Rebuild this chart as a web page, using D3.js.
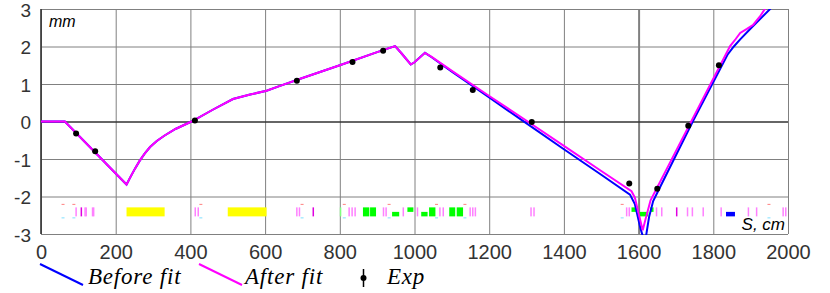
<!DOCTYPE html>
<html>
<head>
<meta charset="utf-8">
<title>Orbit fit</title>
<script src="https://d3js.org/d3.v7.min.js"></script>
<style>
  body { margin: 0; background: #fff; }
  svg { display: block; }
</style>
</head>
<body>
<script>
// x ticks (cm) and y ticks (mm)
let xTicks = [0, 200, 400, 600, 800, 1000, 1200, 1400, 1600, 1800, 2000]
let yTicks = [-3, -2, -1, 0, 1, 2, 3]

// "After fit" curve
let sAfter = [0, 64, 229, 240, 252, 264, 278, 292, 310, 330, 360, 403, 461, 514, 560, 604, 640, 700, 800, 900, 948, 965, 990, 1000, 1028, 1045, 1100, 1200, 1300, 1400, 1500, 1581, 1590, 1600, 1611, 1620, 1632, 1702, 1845, 1860, 1872, 1890, 1907, 1925, 1938, 1955]
let vAfter = [0, 0, -1.68, -1.47, -1.25, -1.05, -0.85, -0.68, -0.52, -0.38, -0.2, 0, 0.32, 0.6, 0.72, 0.82, 0.95, 1.16, 1.5, 1.85, 2.01, 1.82, 1.52, 1.58, 1.83, 1.73, 1.35, 0.68, 0.02, -0.65, -1.32, -1.86, -2.03, -2.45, -2.9, -2.55, -2.1, -0.75, 2.01, 2.2, 2.36, 2.47, 2.58, 2.8, 3.0, 3.25]

// "Before fit" curve
let sBefore = [0, 64, 229, 240, 252, 264, 278, 292, 310, 330, 360, 403, 461, 514, 560, 604, 640, 700, 800, 900, 948, 965, 990, 1000, 1028, 1045, 1100, 1200, 1300, 1400, 1500, 1577, 1590, 1605, 1611, 1620, 1628, 1639, 1650, 1745, 1838, 1855, 1872, 1900, 1952, 1965]
let vBefore = [0, 0, -1.68, -1.47, -1.25, -1.05, -0.85, -0.68, -0.52, -0.38, -0.2, 0, 0.32, 0.6, 0.72, 0.82, 0.95, 1.16, 1.5, 1.85, 2.01, 1.82, 1.52, 1.58, 1.83, 1.72, 1.33, 0.64, -0.05, -0.74, -1.42, -1.95, -2.2, -2.85, -3.05, -3.05, -2.55, -2.12, -1.9, 0, 1.78, 2.0, 2.19, 2.48, 3.0, 3.15]

// measured points
let sExp = [94, 145, 412, 685, 834, 916, 1069, 1156, 1314, 1575, 1650, 1733, 1815]
let vExp = [-0.32, -0.79, 0.03, 1.09, 1.59, 1.89, 1.44, 0.84, -0.01, -1.65, -1.79, -0.11, 1.5]

// lattice elements along s
let thinLight = [94, 118, 121, 138, 141, 413, 421, 685, 692, 825, 833, 841, 917, 924, 970, 1008, 1068, 1077, 1149, 1156, 1163, 1312, 1320, 1568, 1575, 1648, 1662, 1731, 1744, 1773, 1821, 1894, 1916, 1987, 1994]
let thinDark = [108, 729, 1702]
let thinGreen = [802]
let markS = [59, 88, 428, 699, 812, 932, 1059, 1135, 1556, 1949]
let blockStart = [229, 500, 862, 881, 940, 981, 1018, 1039, 1093, 1113, 1581, 1600, 1631, 1834]
let blockEnd = [331, 604, 879, 897, 959, 997, 1035, 1056, 1109, 1130, 1595, 1626, 1640, 1858]
let blockLevel = ["full", "full", "full", "full", "low", "high", "low", "full", "full", "full", "high", "low", "high", "low"]
let blockKind = ["yellow", "yellow", "green", "green", "green", "green", "green", "green", "green", "green", "green", "green", "green", "blue"]

let W = 830, H = 293
let x = d3.scaleLinear().domain([0, 2000]).range([41, 788])
let y = d3.scaleLinear().domain([-3, 3]).range([234, 9])

let svg = d3.select("body").append("svg")
  .attr("width", W).attr("height", H)

let font = "'Liberation Sans', Arial, sans-serif"

// grid
svg.append("g")
  .attr("transform", "translate(0," + y(-3) + ")")
  .call(d3.axisBottom(x).tickValues(xTicks).tickSize(-(y(-3) - y(3))).tickFormat(""))
  .call(g => g.select(".domain").remove())
  .selectAll("line")
  .attr("stroke", "#808080")
  .attr("stroke-width", d => d == 1600 ? 2 : 1)

svg.append("g")
  .attr("transform", "translate(" + x(0) + ",0)")
  .call(d3.axisLeft(y).tickValues(yTicks).tickSize(-(x(2000) - x(0))).tickFormat(""))
  .call(g => g.select(".domain").remove())
  .selectAll("line")
  .attr("stroke", d => d == 0 ? "#333" : "#808080")
  .attr("stroke-width", d => d == 0 ? 1.6 : 1)

svg.append("line")
  .attr("x1", x(0)).attr("x2", x(0)).attr("y1", y(3)).attr("y2", y(-3))
  .attr("stroke", "#333").attr("stroke-width", 1.6)

// x labels
let xAxis = svg.append("g")
  .attr("transform", "translate(0," + y(-3) + ")")
  .call(d3.axisBottom(x).tickValues(xTicks).tickSize(0).tickPadding(11).tickFormat(d3.format("d")))
xAxis.select(".domain").remove()
xAxis.selectAll("text")
  .attr("font-family", font).attr("font-size", 20).attr("fill", "#333")

// y labels
let yAxis = svg.append("g")
  .attr("transform", "translate(" + x(0) + ",0)")
  .call(d3.axisLeft(y).tickValues(yTicks).tickSize(0).tickPadding(10))
yAxis.select(".domain").remove()
yAxis.selectAll("text")
  .attr("font-family", font).attr("font-size", 19).attr("fill", "#333")
  .attr("dy", "0.38em")
  .text(d => d < 0 ? "-" + Math.abs(d) : d)

// lattice band
let band = svg.append("g")
let bandTop = y(-2.29), bandBot = y(-2.53), bandMid = y(-2.41)
let levelY = { full: [bandTop, bandBot], low: [bandMid, bandBot], high: [bandTop, bandMid] }
let kindColor = { yellow: "#ffff00", green: "#00ff00", blue: "#0000ff" }

blockStart.forEach((s0, i) => {
  let ly = levelY[blockLevel[i]]
  band.append("rect")
    .attr("x", x(s0)).attr("width", x(blockEnd[i]) - x(s0))
    .attr("y", ly[0]).attr("height", ly[1] - ly[0])
    .attr("fill", kindColor[blockKind[i]])
})

function thin(list, color) {
  band.selectAll(null).data(list).enter().append("rect")
    .attr("x", d => x(d) - 0.75).attr("width", 1.5)
    .attr("y", bandTop).attr("height", bandBot - bandTop)
    .attr("fill", color)
}
thin(thinLight, "#ff80ff")
thin(thinDark, "#e000e0")
thin(thinGreen, "#80ff80")

band.selectAll(".mr").data(markS).enter().append("rect")
  .attr("x", d => x(d) - 1.5).attr("width", 3)
  .attr("y", y(-2.21) - 0.5).attr("height", 1)
  .attr("fill", "#ff8080")
band.selectAll(".mc").data(markS).enter().append("rect")
  .attr("x", d => x(d) - 1.5).attr("width", 3)
  .attr("y", y(-2.57) - 0.5).attr("height", 1)
  .attr("fill", "#80e0ff")

// curves
svg.append("clipPath").attr("id", "plot")
  .append("rect").attr("x", x(0)).attr("y", y(3))
  .attr("width", x(2000) - x(0)).attr("height", y(-3) - y(3) + 1)

let line = d3.line().x(d => x(d[0])).y(d => y(d[1]))

svg.append("path")
  .datum(sBefore.map((s, i) => [s, vBefore[i]]))
  .attr("d", line).attr("clip-path", "url(#plot)")
  .attr("fill", "none").attr("stroke", "#0000ff").attr("stroke-width", 2)

svg.append("path")
  .datum(sAfter.map((s, i) => [s, vAfter[i]]))
  .attr("d", line).attr("clip-path", "url(#plot)")
  .attr("fill", "none").attr("stroke", "#ff00ff").attr("stroke-width", 2)

svg.selectAll(".exp").data(sExp).enter().append("circle")
  .attr("cx", d => x(d)).attr("cy", (d, i) => y(vExp[i]))
  .attr("r", 3).attr("fill", "#000")

// axis names
svg.append("text").attr("x", 49).attr("y", 27)
  .attr("font-family", font).attr("font-size", 16).attr("font-style", "italic")
  .text("mm")
svg.append("text").attr("x", 785).attr("y", 230).attr("text-anchor", "end")
  .attr("font-family", font).attr("font-size", 17).attr("font-style", "italic")
  .text("S, cm")

// legend
let serif = "'Liberation Serif', 'Times New Roman', serif"
let leg = svg.append("g")
leg.append("line").attr("x1", 40).attr("y1", 264).attr("x2", 83).attr("y2", 285)
  .attr("stroke", "#0000ff").attr("stroke-width", 2)
leg.append("text").attr("x", 88).attr("y", 284).text("Before fit")
leg.append("line").attr("x1", 199).attr("y1", 264).attr("x2", 242).attr("y2", 285)
  .attr("stroke", "#ff00ff").attr("stroke-width", 2)
leg.append("text").attr("x", 245).attr("y", 284).text("After fit")
leg.append("line").attr("x1", 363.5).attr("y1", 269).attr("x2", 363.5).attr("y2", 287)
  .attr("stroke", "#000").attr("stroke-width", 1.5)
leg.append("circle").attr("cx", 363.5).attr("cy", 278).attr("r", 3).attr("fill", "#000")
leg.append("text").attr("x", 387).attr("y", 284).text("Exp")
leg.selectAll("text")
  .attr("font-family", serif).attr("font-size", 23).attr("font-style", "italic")
  .attr("letter-spacing", 0.8)
</script>
</body>
</html>
